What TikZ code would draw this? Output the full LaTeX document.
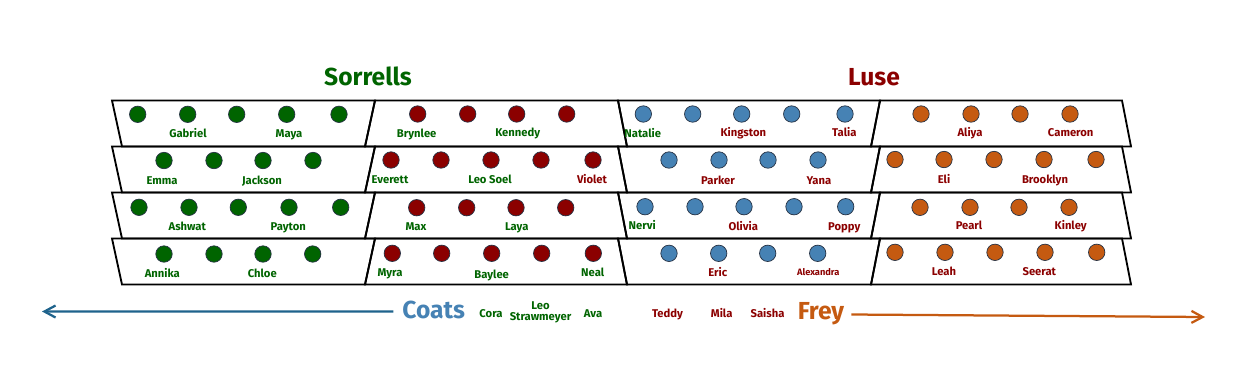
\documentclass[tikz,border=0pt]{standalone}
\usepackage{fontspec}
\setmainfont{Fira Sans}
\usetikzlibrary{arrows.meta}
\definecolor{sgreen}{RGB}{0,100,0}
\definecolor{lred}{RGB}{139,0,0}
\definecolor{cblue}{RGB}{70,130,180}
\definecolor{forange}{RGB}{197,90,17}
\definecolor{ring}{RGB}{38,50,68}
\definecolor{cline}{RGB}{31,99,140}
\tikzset{
  seat/.style={draw=ring,line width=0.5pt},
  gdot/.style={seat,fill=sgreen},
  rdot/.style={seat,fill=lred},
  bdot/.style={seat,fill=cblue},
  odot/.style={seat,fill=forange},
  kid/.style={font=\bfseries\fontsize{8}{9.6}\selectfont,inner sep=0pt,text height=1.31ex,text depth=0pt},
  gkid/.style={kid,text=sgreen},
  rkid/.style={kid,text=lred},
  team/.style={font=\bfseries\fontsize{17.5}{20}\selectfont,inner sep=0pt,text height=1.31ex,text depth=0pt},
  lane/.style={line width=1.6pt,-{Straight Barb[length=2.8mm,width=3mm]}}
}
\begin{document}
\begin{tikzpicture}[x=0.025cm,y=-0.025cm]
\useasboundingbox (0,0) rectangle (1248,384);
\foreach \t in {100.5,146.5,192.5,238.5}{
  \draw[line width=1.3pt] (112,\t)--(375,\t)--(365,\t+46)--(122,\t+46)--cycle;
  \draw[line width=1.3pt] (375,\t)--(618,\t)--(627,\t+46)--(365,\t+46)--cycle;
  \draw[line width=1.3pt] (618,\t)--(880,\t)--(871,\t+46)--(627,\t+46)--cycle;
  \draw[line width=1.3pt] (880,\t)--(1122,\t)--(1131,\t+46)--(871,\t+46)--cycle;
}
\foreach \x in {137.7,187.7,236.7,286.7,339} \draw[gdot] (\x,114.3) circle[radius=2.05mm];
\foreach \x in {417.7,467.7,516.7,566.7} \draw[rdot] (\x,114) circle[radius=2.05mm];
\foreach \x in {643.3,692.7,741.7,791.7,845} \draw[bdot] (\x,114) circle[radius=2.05mm];
\foreach \x in {921,971,1020,1070} \draw[odot] (\x,114) circle[radius=2.05mm];
\foreach \x in {164,214,263,313} \draw[gdot] (\x,160.5) circle[radius=2.05mm];
\foreach \x in {391,441,491,541,593} \draw[rdot] (\x,160) circle[radius=2.05mm];
\foreach \x in {669,719,768,818} \draw[bdot] (\x,160) circle[radius=2.05mm];
\foreach \x in {895,944,994,1044,1096} \draw[odot] (\x,159.5) circle[radius=2.05mm];
\foreach \x in {139,189,238.3,289,340.7} \draw[gdot] (\x,207.3) circle[radius=2.05mm];
\foreach \x in {416.7,466.7,516,565.7} \draw[rdot] (\x,207.7) circle[radius=2.05mm];
\foreach \x in {645,695,744,794,845.7} \draw[bdot] (\x,206.7) circle[radius=2.05mm];
\foreach \x in {920,970,1019,1069} \draw[odot] (\x,207.3) circle[radius=2.05mm];
\foreach \x in {164,214,263,312.7} \draw[gdot] (\x,254) circle[radius=2.05mm];
\foreach \x in {392.3,441.7,491.7,541.7,593.3} \draw[rdot] (\x,253.3) circle[radius=2.05mm];
\foreach \x in {669,718.7,767.7,817.7} \draw[bdot] (\x,253.3) circle[radius=2.05mm];
\foreach \x in {895,945,995,1045,1096.7} \draw[odot] (\x,252.3) circle[radius=2.05mm];
\node[team,text=sgreen] (sorrells) at (368,81) {Sorrells};
\node[team,text=lred] (luse) at (874,80.5) {Luse};
\node[gkid] (gabriel) at (188,132.5) {Gabriel};
\node[gkid] (maya) at (289,132.5) {Maya};
\node[gkid] (brynlee) at (416.7,132.5) {Brynlee};
\node[gkid] (kennedy) at (517.7,132) {Kennedy};
\node[gkid] (natalie) at (642.7,132.5) {Natalie};
\node[rkid] (kingston) at (743.3,132) {Kingston};
\node[rkid] (talia) at (844.3,132) {Talia};
\node[rkid] (aliya) at (970,131.5) {Aliya};
\node[rkid] (cameron) at (1070.7,131.5) {Cameron};
\node[gkid] (emma) at (162,179.5) {Emma};
\node[gkid] (jackson) at (262,179.5) {Jackson};
\node[gkid] (everett) at (390,179) {Everett};
\node[gkid] (leosoel) at (490,179) {Leo Soel};
\node[rkid] (violet) at (592,179) {Violet};
\node[rkid] (parker) at (718,179.5) {Parker};
\node[rkid] (yana) at (819,179.5) {Yana};
\node[rkid] (eli) at (944,178.5) {Eli};
\node[rkid] (brooklyn) at (1045,178.5) {Brooklyn};
\node[gkid] (ashwat) at (187.3,225.3) {Ashwat};
\node[gkid] (payton) at (288.3,225.3) {Payton};
\node[gkid] (max) at (416,225.5) {Max};
\node[gkid] (laya) at (516.7,225.5) {Laya};
\node[gkid] (nervi) at (642.3,224.7) {Nervi};
\node[rkid] (olivia) at (743.3,225.5) {Olivia};
\node[rkid] (poppy) at (844.3,225.5) {Poppy};
\node[rkid] (pearl) at (969,225) {Pearl};
\node[rkid] (kinley) at (1070.7,225) {Kinley};
\node[gkid] (annika) at (162.3,272.7) {Annika};
\node[gkid] (chloe) at (262.3,272.7) {Chloe};
\node[gkid] (myra) at (390,271.7) {Myra};
\node[gkid] (baylee) at (491.7,274) {Baylee};
\node[gkid] (neal) at (592.7,271.7) {Neal};
\node[rkid] (eric) at (717.7,271.7) {Eric};
\node[rkid,font=\bfseries\fontsize{6.6}{8}\selectfont] (alexandra) at (818.3,271) {Alexandra};
\node[rkid] (leah) at (944,270.7) {Leah};
\node[rkid] (seerat) at (1039.3,270.7) {Seerat};
\node[team,text=cblue] (coats) at (433.7,314) {Coats};
\node[gkid] (cora) at (491,312.7) {Cora};
\node[gkid,align=center,text height=,text depth=,font=\bfseries\fontsize{8}{7.8}\selectfont] (leo) at (540.5,312) {Leo\\Strawmeyer};
\node[gkid] (ava) at (593,312.7) {Ava};
\node[rkid] (teddy) at (667.5,312.7) {Teddy};
\node[rkid] (mila) at (721.7,312.7) {Mila};
\node[rkid] (saisha) at (767.5,312.7) {Saisha};
\node[team,text=forange] (frey) at (821,314.5) {Frey};
\coordinate (farleft) at (42,311.5);
\coordinate (farright) at (1205,317);
\draw[lane,cline] ([xshift=-2.2mm,yshift=0.6mm]coats.west) -- (farleft);
\draw[lane,forange] ([xshift=1.7mm]frey.east) -- (farright);
\end{tikzpicture}
\end{document}
